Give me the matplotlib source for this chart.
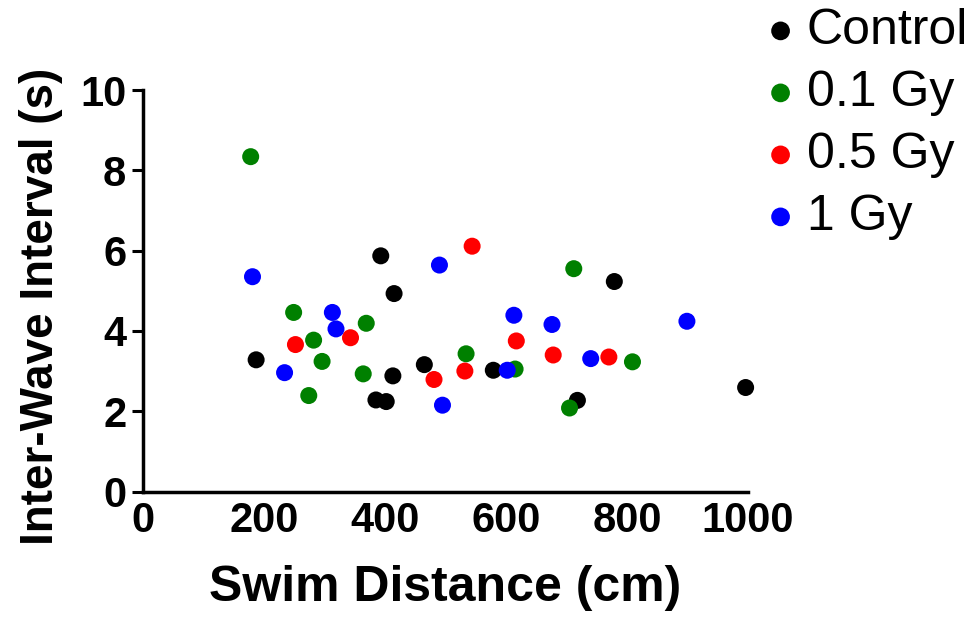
import matplotlib
matplotlib.use("Agg")
import matplotlib.pyplot as plt

# swim distance (cm) vs inter-wave interval (s)
control_x = [187, 393, 415, 465, 413, 385, 402, 579, 779, 718, 996]
control_y = [3.28, 5.87, 4.93, 3.16, 2.88, 2.28, 2.24, 3.02, 5.23, 2.27, 2.59]

gy01_x = [178, 249, 369, 282, 296, 364, 274, 534, 712, 615, 809, 705]
gy01_y = [8.34, 4.46, 4.19, 3.77, 3.24, 2.93, 2.39, 3.43, 5.55, 3.05, 3.23, 2.08]

gy05_x = [252, 343, 481, 544, 617, 678, 770, 532]
gy05_y = [3.66, 3.83, 2.79, 6.11, 3.75, 3.40, 3.35, 3.00]

gy1_x = [181, 490, 313, 319, 234, 495, 613, 676, 740, 602, 899]
gy1_y = [5.35, 5.64, 4.46, 4.05, 2.96, 2.15, 4.39, 4.16, 3.31, 3.02, 4.24]

groups = [
    ("Control", control_x, control_y, "black"),
    ("0.1 Gy", gy01_x, gy01_y, "green"),
    ("0.5 Gy", gy05_x, gy05_y, "red"),
    ("1 Gy", gy1_x, gy1_y, "blue"),
]

plt.rcParams["font.family"] = ["Liberation Sans", "DejaVu Sans"]

fig = plt.figure(figsize=(9.74, 6.17), dpi=100)
ax = fig.add_axes([0.1468, 0.2034, 0.6212, 0.6507])

for label, xs, ys, color in groups:
    ax.scatter(xs, ys, s=150, color=color, edgecolors="none", label=label,
               clip_on=False, zorder=3)

ax.set_xlim(0, 1000)
ax.set_ylim(0, 10)
ax.set_xticks([0, 200, 400, 600, 800, 1000])
ax.set_yticks([0, 2, 4, 6, 8, 10])

for side in ["top", "right"]:
    ax.spines[side].set_visible(False)
for side in ["left", "bottom"]:
    ax.spines[side].set_linewidth(2.5)

ax.tick_params(axis="y", length=8, width=2.2, pad=4, labelsize=30)
ax.tick_params(axis="x", length=0, pad=7, labelsize=30)
for t in ax.get_xticklabels() + ax.get_yticklabels():
    t.set_fontweight("bold")

ax.set_xlabel("Swim Distance (cm)", fontsize=36, fontweight="bold", labelpad=17)
ax.set_ylabel("Inter-Wave Interval (s)", fontsize=33, fontweight="bold")
ax.yaxis.set_label_coords(-0.132, 0.46)

fig.legend(loc="upper left", bbox_to_anchor=(0.786, 0.987), frameon=False,
           fontsize=36, handlelength=0.6, handletextpad=0.22, labelspacing=0.32,
           markerscale=1.1, borderpad=0, borderaxespad=0)

fig.savefig("out.png", dpi=100)
